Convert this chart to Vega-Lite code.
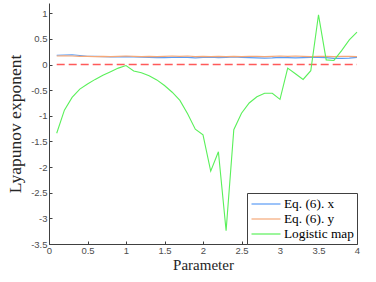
{
  "$schema": "https://vega.github.io/schema/vega-lite/v6.json",
  "width": 308,
  "height": 241,
  "autosize": "none",
  "padding": {"left": 49, "top": 3, "right": 19, "bottom": 38},
  "config": {
    "view": {"stroke": null},
    "axis": {
      "domainColor": "#404040",
      "tickColor": "#404040",
      "tickSize": -3,
      "labelColor": "#4d4d4d",
      "labelFont": "Liberation Sans",
      "labelFontSize": 9.5,
      "labelOverlap": false,
      "titleFont": "Liberation Serif",
      "titleFontWeight": "normal",
      "titleColor": "#262626",
      "grid": false
    },
    "legend": {"labelFont": "Liberation Serif"}
  },
  "datasets": {
    "series": [
      {"p": 0.1, "s": "Eq. (6). x", "v": 0.18}, {"p": 0.2, "s": "Eq. (6). x", "v": 0.185}, {"p": 0.3, "s": "Eq. (6). x", "v": 0.19}, {"p": 0.4, "s": "Eq. (6). x", "v": 0.175}, {"p": 0.5, "s": "Eq. (6). x", "v": 0.16}, {"p": 0.6, "s": "Eq. (6). x", "v": 0.16}, {"p": 0.7, "s": "Eq. (6). x", "v": 0.155}, {"p": 0.8, "s": "Eq. (6). x", "v": 0.15}, {"p": 0.9, "s": "Eq. (6). x", "v": 0.15}, {"p": 1.0, "s": "Eq. (6). x", "v": 0.155}, {"p": 1.1, "s": "Eq. (6). x", "v": 0.15}, {"p": 1.2, "s": "Eq. (6). x", "v": 0.145}, {"p": 1.3, "s": "Eq. (6). x", "v": 0.14}, {"p": 1.4, "s": "Eq. (6). x", "v": 0.135}, {"p": 1.5, "s": "Eq. (6). x", "v": 0.135}, {"p": 1.6, "s": "Eq. (6). x", "v": 0.14}, {"p": 1.7, "s": "Eq. (6). x", "v": 0.145}, {"p": 1.8, "s": "Eq. (6). x", "v": 0.14}, {"p": 1.9, "s": "Eq. (6). x", "v": 0.13}, {"p": 2.0, "s": "Eq. (6). x", "v": 0.14}, {"p": 2.1, "s": "Eq. (6). x", "v": 0.145}, {"p": 2.2, "s": "Eq. (6). x", "v": 0.135}, {"p": 2.3, "s": "Eq. (6). x", "v": 0.14}, {"p": 2.4, "s": "Eq. (6). x", "v": 0.15}, {"p": 2.5, "s": "Eq. (6). x", "v": 0.14}, {"p": 2.6, "s": "Eq. (6). x", "v": 0.135}, {"p": 2.7, "s": "Eq. (6). x", "v": 0.13}, {"p": 2.8, "s": "Eq. (6). x", "v": 0.125}, {"p": 2.9, "s": "Eq. (6). x", "v": 0.13}, {"p": 3.0, "s": "Eq. (6). x", "v": 0.14}, {"p": 3.1, "s": "Eq. (6). x", "v": 0.135}, {"p": 3.2, "s": "Eq. (6). x", "v": 0.13}, {"p": 3.3, "s": "Eq. (6). x", "v": 0.135}, {"p": 3.4, "s": "Eq. (6). x", "v": 0.14}, {"p": 3.5, "s": "Eq. (6). x", "v": 0.14}, {"p": 3.6, "s": "Eq. (6). x", "v": 0.135}, {"p": 3.7, "s": "Eq. (6). x", "v": 0.12}, {"p": 3.8, "s": "Eq. (6). x", "v": 0.12}, {"p": 3.9, "s": "Eq. (6). x", "v": 0.125}, {"p": 4.0, "s": "Eq. (6). x", "v": 0.14},
      {"p": 0.1, "s": "Eq. (6). y", "v": 0.165}, {"p": 0.2, "s": "Eq. (6). y", "v": 0.17}, {"p": 0.3, "s": "Eq. (6). y", "v": 0.165}, {"p": 0.4, "s": "Eq. (6). y", "v": 0.16}, {"p": 0.5, "s": "Eq. (6). y", "v": 0.16}, {"p": 0.6, "s": "Eq. (6). y", "v": 0.155}, {"p": 0.7, "s": "Eq. (6). y", "v": 0.16}, {"p": 0.8, "s": "Eq. (6). y", "v": 0.155}, {"p": 0.9, "s": "Eq. (6). y", "v": 0.16}, {"p": 1.0, "s": "Eq. (6). y", "v": 0.165}, {"p": 1.1, "s": "Eq. (6). y", "v": 0.16}, {"p": 1.2, "s": "Eq. (6). y", "v": 0.155}, {"p": 1.3, "s": "Eq. (6). y", "v": 0.16}, {"p": 1.4, "s": "Eq. (6). y", "v": 0.155}, {"p": 1.5, "s": "Eq. (6). y", "v": 0.16}, {"p": 1.6, "s": "Eq. (6). y", "v": 0.165}, {"p": 1.7, "s": "Eq. (6). y", "v": 0.16}, {"p": 1.8, "s": "Eq. (6). y", "v": 0.165}, {"p": 1.9, "s": "Eq. (6). y", "v": 0.155}, {"p": 2.0, "s": "Eq. (6). y", "v": 0.16}, {"p": 2.1, "s": "Eq. (6). y", "v": 0.155}, {"p": 2.2, "s": "Eq. (6). y", "v": 0.16}, {"p": 2.3, "s": "Eq. (6). y", "v": 0.155}, {"p": 2.4, "s": "Eq. (6). y", "v": 0.16}, {"p": 2.5, "s": "Eq. (6). y", "v": 0.155}, {"p": 2.6, "s": "Eq. (6). y", "v": 0.16}, {"p": 2.7, "s": "Eq. (6). y", "v": 0.16}, {"p": 2.8, "s": "Eq. (6). y", "v": 0.155}, {"p": 2.9, "s": "Eq. (6). y", "v": 0.16}, {"p": 3.0, "s": "Eq. (6). y", "v": 0.165}, {"p": 3.1, "s": "Eq. (6). y", "v": 0.16}, {"p": 3.2, "s": "Eq. (6). y", "v": 0.165}, {"p": 3.3, "s": "Eq. (6). y", "v": 0.16}, {"p": 3.4, "s": "Eq. (6). y", "v": 0.155}, {"p": 3.5, "s": "Eq. (6). y", "v": 0.16}, {"p": 3.6, "s": "Eq. (6). y", "v": 0.16}, {"p": 3.7, "s": "Eq. (6). y", "v": 0.155}, {"p": 3.8, "s": "Eq. (6). y", "v": 0.16}, {"p": 3.9, "s": "Eq. (6). y", "v": 0.16}, {"p": 4.0, "s": "Eq. (6). y", "v": 0.155},
      {"p": 0.1, "s": "Logistic map", "v": -1.34}, {"p": 0.2, "s": "Logistic map", "v": -0.89}, {"p": 0.3, "s": "Logistic map", "v": -0.64}, {"p": 0.4, "s": "Logistic map", "v": -0.48}, {"p": 0.5, "s": "Logistic map", "v": -0.38}, {"p": 0.6, "s": "Logistic map", "v": -0.29}, {"p": 0.7, "s": "Logistic map", "v": -0.21}, {"p": 0.8, "s": "Logistic map", "v": -0.14}, {"p": 0.9, "s": "Logistic map", "v": -0.07}, {"p": 1.0, "s": "Logistic map", "v": -0.02}, {"p": 1.1, "s": "Logistic map", "v": -0.125}, {"p": 1.2, "s": "Logistic map", "v": -0.16}, {"p": 1.3, "s": "Logistic map", "v": -0.22}, {"p": 1.4, "s": "Logistic map", "v": -0.3}, {"p": 1.5, "s": "Logistic map", "v": -0.41}, {"p": 1.6, "s": "Logistic map", "v": -0.54}, {"p": 1.7, "s": "Logistic map", "v": -0.7}, {"p": 1.8, "s": "Logistic map", "v": -0.96}, {"p": 1.9, "s": "Logistic map", "v": -1.26}, {"p": 2.0, "s": "Logistic map", "v": -1.37}, {"p": 2.1, "s": "Logistic map", "v": -2.08}, {"p": 2.2, "s": "Logistic map", "v": -1.7}, {"p": 2.3, "s": "Logistic map", "v": -3.24}, {"p": 2.4, "s": "Logistic map", "v": -1.27}, {"p": 2.5, "s": "Logistic map", "v": -0.95}, {"p": 2.6, "s": "Logistic map", "v": -0.75}, {"p": 2.7, "s": "Logistic map", "v": -0.63}, {"p": 2.8, "s": "Logistic map", "v": -0.56}, {"p": 2.9, "s": "Logistic map", "v": -0.56}, {"p": 3.0, "s": "Logistic map", "v": -0.68}, {"p": 3.1, "s": "Logistic map", "v": -0.07}, {"p": 3.2, "s": "Logistic map", "v": -0.18}, {"p": 3.3, "s": "Logistic map", "v": -0.29}, {"p": 3.4, "s": "Logistic map", "v": -0.12}, {"p": 3.5, "s": "Logistic map", "v": 0.97}, {"p": 3.6, "s": "Logistic map", "v": 0.09}, {"p": 3.7, "s": "Logistic map", "v": 0.08}, {"p": 3.8, "s": "Logistic map", "v": 0.27}, {"p": 3.9, "s": "Logistic map", "v": 0.48}, {"p": 4.0, "s": "Logistic map", "v": 0.63}
    ],
    "zero": [{"p": 0.1, "v": 0}, {"p": 4.0, "v": 0}]
  },
  "encoding": {
    "x": {
      "field": "p", "type": "quantitative",
      "scale": {"domain": [0, 4], "nice": false, "zero": false},
      "axis": {"values": [0, 0.5, 1, 1.5, 2, 2.5, 3, 3.5, 4], "labelExpr": "toString(datum.value)", "labelOverlap": false, "labelFlush": false, "labelBound": false, "title": "Parameter", "titleFontSize": 15, "titlePadding": 3, "labelPadding": 4}
    },
    "y": {
      "field": "v", "type": "quantitative",
      "scale": {"domain": [-3.5, 1.2], "nice": false, "zero": false},
      "axis": {"values": [-3.5, -3, -2.5, -2, -1.5, -1, -0.5, 0, 0.5, 1], "labelExpr": "toString(datum.value)", "labelOverlap": false, "labelFlush": false, "labelBound": false, "title": "Lyapunov exponent", "titleFontSize": 17.5, "titlePadding": 6, "labelPadding": 5}
    }
  },
  "layer": [
    {
      "data": {"name": "zero"},
      "mark": {"type": "line", "color": "#ff5a5a", "strokeWidth": 1.5, "strokeDash": [8, 4]}
    },
    {
      "data": {"name": "series"},
      "mark": {"type": "line", "strokeWidth": 1.1},
      "encoding": {
        "color": {
          "field": "s", "type": "nominal",
          "scale": {"domain": ["Eq. (6). x", "Eq. (6). y", "Logistic map"], "range": ["#5a9cf5", "#f5a878", "#5af05a"]},
          "legend": {
            "title": null,
            "orient": "bottom-right",
            "offset": 0,
            "symbolType": "M-2,0H2",
            "symbolSize": 210,
            "symbolStrokeWidth": 1.2,
            "labelFont": "Liberation Serif",
            "labelFontSize": 13.3,
            "labelColor": "#000000",
            "labelOffset": 10,
            "symbolOffset": 8,
            "rowPadding": 0,
            "padding": 3,
            "strokeColor": "#404040",
            "fillColor": "#ffffff",
            "cornerRadius": 0
          }
        }
      }
    }
  ]
}
